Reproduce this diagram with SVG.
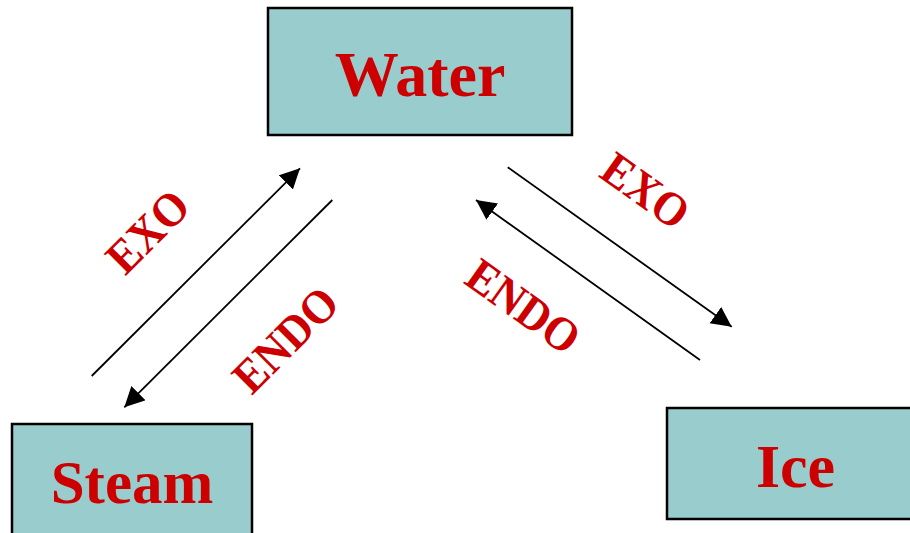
<svg xmlns="http://www.w3.org/2000/svg" width="910" height="533" viewBox="0 0 910 533">
<style>
.box{fill:#99CCCC;stroke:#000;stroke-width:2.5}
.name{font-family:"Liberation Serif","Times New Roman",serif;font-weight:bold;fill:#CC0000;text-anchor:middle}
.lbl{font-family:"Liberation Serif","Times New Roman",serif;font-weight:bold;fill:#CC0000;text-anchor:middle;font-size:44px}
.conn{stroke:#000;stroke-width:1.8;fill:none;marker-end:url(#ah)}
</style>
<defs>
<marker id="ah" markerUnits="userSpaceOnUse" markerWidth="22" markerHeight="22" refX="20" refY="10" orient="auto">
<path d="M0,0 L20,10 L0,20 z" fill="#000"/>
</marker>
</defs>
<rect width="910" height="533" fill="#fff"/>
<g id="water">
<rect class="box" x="268" y="8" width="304" height="127"/>
<text class="name" x="420" y="96" font-size="64">Water</text>
</g>
<g id="steam">
<rect class="box" x="12" y="424" width="240" height="120"/>
<text class="name" x="132" y="503" font-size="61">Steam</text>
</g>
<g id="ice">
<rect class="box" x="667" y="408" width="258" height="111"/>
<text class="name" x="795.5" y="487" font-size="62">Ice</text>
</g>
<g id="connectors">
<line class="conn" x1="91.7" y1="376" x2="300" y2="168.3"/>
<line class="conn" x1="332.3" y1="200" x2="124.3" y2="407.3"/>
<line class="conn" x1="507.7" y1="167.3" x2="731.7" y2="326.7"/>
<line class="conn" x1="700" y1="360" x2="476" y2="200"/>
<text class="lbl" transform="translate(148,231.7) rotate(-45) scale(1,1.08)" y="14.5">EXO</text>
<text class="lbl" transform="translate(285.7,340) rotate(-45) scale(1,1.08)" y="14.5">ENDO</text>
<text class="lbl" transform="translate(645.5,191) rotate(35.5) scale(1,1.08)" y="14.5">EXO</text>
<text class="lbl" transform="translate(523.3,306.7) rotate(35.5) scale(1,1.08)" y="14.5">ENDO</text>
</g>
</svg>
